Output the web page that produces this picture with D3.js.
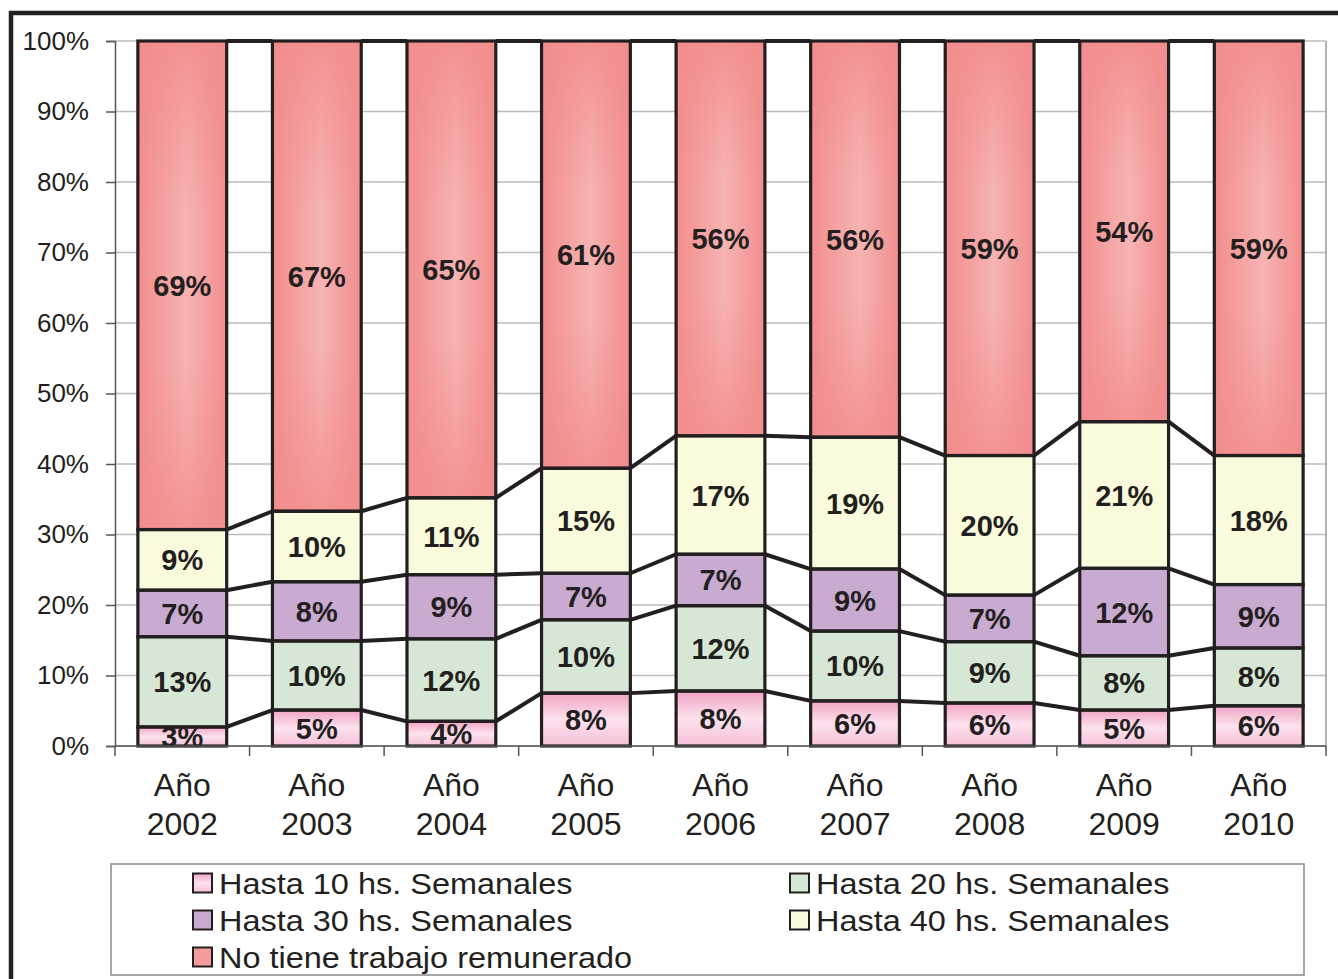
<!DOCTYPE html>
<html>
<head>
<meta charset="utf-8">
<script src="https://cdn.jsdelivr.net/npm/d3@7"></script>
<style>
  html, body { margin: 0; padding: 0; background: #fff; }
  svg { display: block; }
  text { font-family: "Liberation Sans", Arial, Helvetica, sans-serif; fill: #231f20; }
</style>
</head>
<body>
<svg id="chart" width="1338" height="979"></svg>
<script>
// ---------- DATA ----------
const years = ["2002", "2003", "2004", "2005", "2006", "2007", "2008", "2009", "2010"];
const yearPrefix = "Año";
const hasta10 = [2.7, 5.1, 3.5, 7.5, 7.8, 6.4, 6.1, 5.1, 5.7];
const hasta20 = [12.8, 9.8, 11.7, 10.4, 12.1, 9.9, 8.7, 7.7, 8.2];
const hasta30 = [6.6, 8.4, 9.1, 6.6, 7.3, 8.8, 6.6, 12.4, 9.0];
const hasta40 = [8.6, 10.0, 10.9, 14.9, 16.8, 18.7, 19.8, 20.8, 18.3];
const noTiene = [69.3, 66.7, 64.8, 60.6, 56.0, 56.2, 58.8, 54.0, 58.8];
const seriesNames = [
  "Hasta 10 hs. Semanales",
  "Hasta 20 hs. Semanales",
  "Hasta 30 hs. Semanales",
  "Hasta 40 hs. Semanales",
  "No tiene trabajo remunerado"
];
const yTicks = [0, 10, 20, 30, 40, 50, 60, 70, 80, 90, 100];

// ---------- SETUP ----------
const svg = d3.select("#chart");
const ink = "#231f20";
const plot = { left: 115, right: 1326, top: 41, bottom: 746 };

const seriesValues = [hasta10, hasta20, hasta30, hasta40, noTiene];
const keys = ["h10", "h20", "h30", "h40", "no"];
const table = years.map((yr, i) => {
  const row = { year: yr };
  keys.forEach((k, j) => row[k] = seriesValues[j][i]);
  return row;
});
const stacked = d3.stack().keys(keys)(table);

const x = d3.scaleBand().domain(years).range([plot.left, plot.right])
  .paddingInner(0.34).paddingOuter(0.17);
const y = d3.scaleLinear().domain([0, 100]).range([plot.bottom, plot.top]);
const bw = x.bandwidth();

// ---------- GRADIENTS ----------
const defs = svg.append("defs");
function lin(id, vertical, stops) {
  const g = defs.append("linearGradient").attr("id", id)
    .attr("x1", 0).attr("y1", 0).attr("x2", vertical ? 0 : 1).attr("y2", vertical ? 1 : 0);
  stops.forEach(s => g.append("stop").attr("offset", s[0]).attr("stop-color", s[1])
    .attr("stop-opacity", s[2] === undefined ? 1 : s[2]));
}
lin("gPink", true, [[0, "#f1a3c4"], [0.5, "#fde2ee"], [1, "#f6c0d9"]]);
lin("gRedH", false, [[0, "#f28d8d"], [0.55, "#f7b3b3"], [1, "#f28d8d"]]);
lin("gRedV", true, [[0, "#f28d8d", 0.85], [0.35, "#f28d8d", 0], [0.65, "#f28d8d", 0], [1, "#f28d8d", 0.8]]);

const fills = {
  h10: "url(#gPink)",
  h20: "#d6e8d5",
  h30: "#c9aad1",
  h40: "#fafadc",
  no: "url(#gRedH)"
};

defs.append("clipPath").attr("id", "plotClip").append("rect")
  .attr("x", plot.left).attr("y", plot.top)
  .attr("width", plot.right - plot.left).attr("height", plot.bottom - plot.top);

// ---------- OUTER FRAME ----------
svg.append("rect").attr("x", 11).attr("y", 13).attr("width", 1500).attr("height", 1200)
  .attr("fill", "none").attr("stroke", ink).attr("stroke-width", 4.5);

// ---------- GRID ----------
svg.append("g").selectAll("line").data(yTicks).join("line")
  .attr("x1", plot.left).attr("x2", plot.right)
  .attr("y1", d => y(d)).attr("y2", d => y(d))
  .attr("stroke", "#bdbdbd").attr("stroke-width", 1.5);
svg.append("line").attr("x1", plot.right).attr("x2", plot.right)
  .attr("y1", plot.top).attr("y2", plot.bottom)
  .attr("stroke", "#9a9a9a").attr("stroke-width", 1.5);

// ---------- SERIES LINES ----------
const lineG = svg.append("g");
stacked.forEach(layer => {
  for (let i = 0; i < years.length - 1; i++) {
    lineG.append("line")
      .attr("x1", x(years[i]) + bw).attr("y1", y(layer[i][1]))
      .attr("x2", x(years[i + 1])).attr("y2", y(layer[i + 1][1]))
      .attr("stroke", ink).attr("stroke-width", 4);
  }
});

// ---------- BARS ----------
const barG = svg.append("g");
stacked.forEach(layer => {
  const k = layer.key;
  barG.append("g").selectAll("rect").data(layer).join("rect")
    .attr("x", d => x(d.data.year))
    .attr("y", d => y(d[1]))
    .attr("width", bw)
    .attr("height", d => y(d[0]) - y(d[1]))
    .attr("fill", fills[k]);
  if (k === "no") {
    barG.append("g").selectAll("rect").data(layer).join("rect")
      .attr("x", d => x(d.data.year))
      .attr("y", d => y(d[1]))
      .attr("width", bw)
      .attr("height", d => y(d[0]) - y(d[1]))
      .attr("fill", "url(#gRedV)");
  }
});
stacked.forEach(layer => {
  barG.append("g").selectAll("rect").data(layer).join("rect")
    .attr("x", d => x(d.data.year))
    .attr("y", d => y(d[1]))
    .attr("width", bw)
    .attr("height", d => y(d[0]) - y(d[1]))
    .attr("fill", "none").attr("stroke", ink).attr("stroke-width", 3.2);
});

// ---------- DATA LABELS ----------
const labG = svg.append("g").attr("clip-path", "url(#plotClip)");
stacked.forEach(layer => {
  labG.append("g").selectAll("text").data(layer).join("text")
    .attr("x", d => x(d.data.year) + bw / 2)
    .attr("y", d => (y(d[0]) + y(d[1])) / 2 + 10.5)
    .attr("text-anchor", "middle")
    .attr("font-size", 29).attr("font-weight", "bold")
    .text(d => Math.round(d[1] - d[0]) + "%");
});

// ---------- AXES ----------
const yAxis = svg.append("g").attr("transform", `translate(${plot.left},0)`)
  .call(d3.axisLeft(y).tickValues(yTicks).tickFormat(d => d + "%").tickSize(9).tickPadding(17));
yAxis.attr("font-family", null);
yAxis.select(".domain").attr("stroke", "#555").attr("stroke-width", 1.5);
yAxis.selectAll(".tick line").attr("stroke", "#555").attr("stroke-width", 1.5);
yAxis.selectAll(".tick text").attr("font-size", 26).attr("fill", ink);

const xAxisG = svg.append("g");
xAxisG.append("line").attr("x1", plot.left).attr("x2", plot.right)
  .attr("y1", plot.bottom).attr("y2", plot.bottom).attr("stroke", "#555").attr("stroke-width", 1.5);
const boundaries = d3.range(years.length + 1).map(i => plot.left + i * x.step());
xAxisG.selectAll("line.tk").data(boundaries).join("line").attr("class", "tk")
  .attr("x1", d => d).attr("x2", d => d)
  .attr("y1", plot.bottom).attr("y2", plot.bottom + 10)
  .attr("stroke", "#555").attr("stroke-width", 1.5);
const xl = xAxisG.selectAll("text.xl").data(years).join("text").attr("class", "xl")
  .attr("text-anchor", "middle").attr("font-size", 32);
xl.append("tspan").attr("x", d => x(d) + bw / 2).attr("y", 796).text(yearPrefix);
xl.append("tspan").attr("x", d => x(d) + bw / 2).attr("y", 835).text(d => d);

// ---------- LEGEND ----------
const leg = svg.append("g");
leg.append("rect").attr("x", 111).attr("y", 864).attr("width", 1193).attr("height", 111)
  .attr("fill", "#fff").attr("stroke", "#8a8a8a").attr("stroke-width", 1.5);
const legPos = [
  { sx: 193, cy: 883 }, { sx: 790, cy: 883 },
  { sx: 193, cy: 920 }, { sx: 790, cy: 920 },
  { sx: 193, cy: 957 }
];
const legFill = ["url(#gPink)", "#d6e8d5", "#c9aad1", "#fafadc", "#f49c9c"];
seriesNames.forEach((name, i) => {
  const p = legPos[i];
  leg.append("rect").attr("x", p.sx).attr("y", p.cy - 9.5).attr("width", 19).attr("height", 19)
    .attr("fill", legFill[i]).attr("stroke", ink).attr("stroke-width", 2);
  leg.append("text")
    .attr("transform", `translate(${p.sx + 26},${p.cy + 11}) scale(1.12,1)`)
    .attr("font-size", 29).text(name);
});
</script>
</body>
</html>
